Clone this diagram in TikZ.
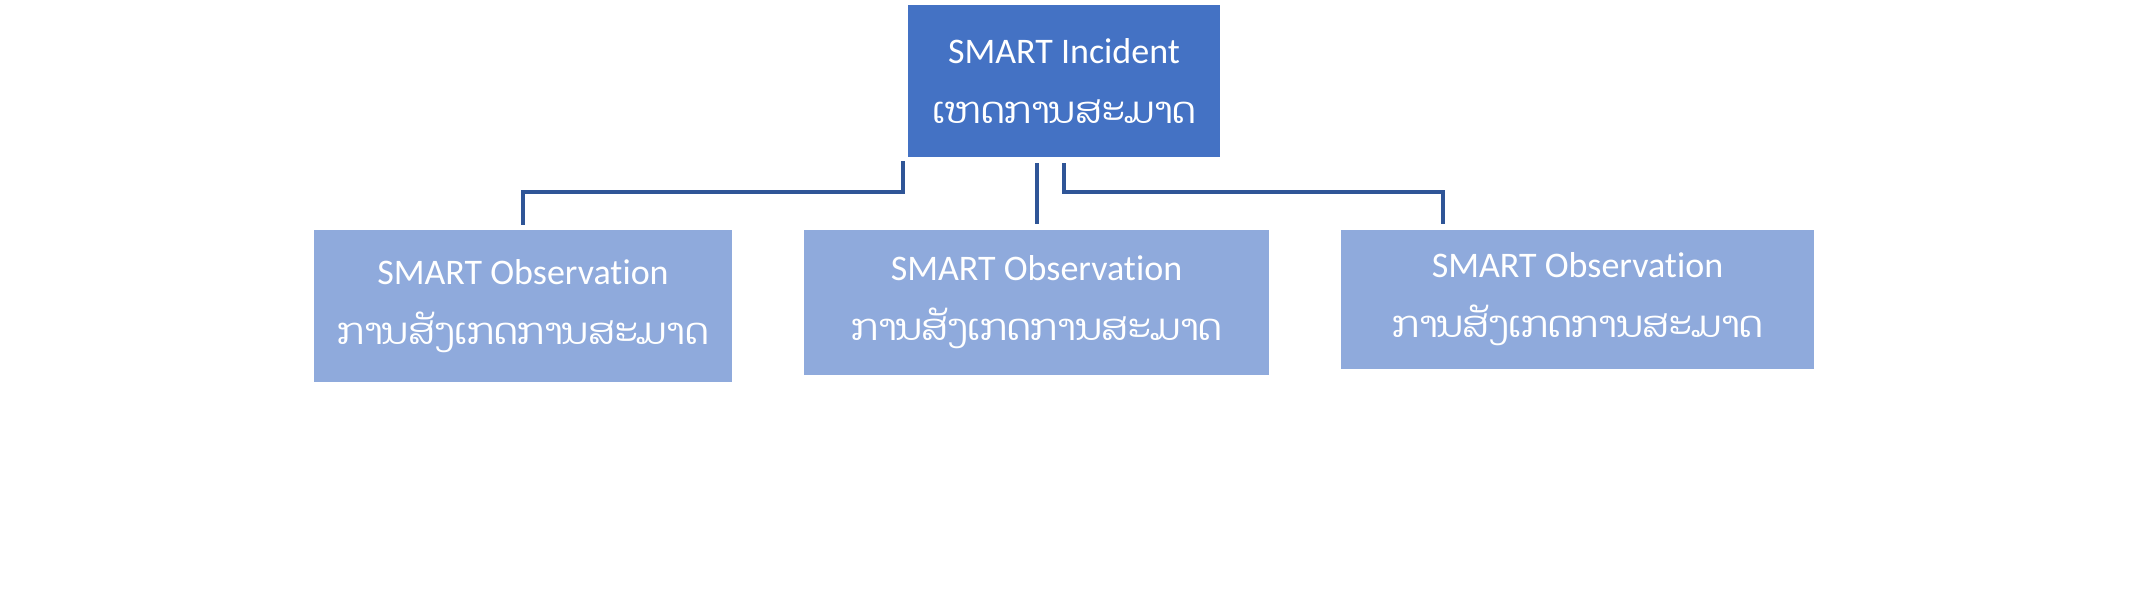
\documentclass[tikz,border=0pt]{standalone}
\usepackage{fontspec}
\setmainfont{Carlito}[Ligatures=NoCommon]
\newfontfamily\laofont[Script=Lao,Scale=1.02]{Dhyana}
\definecolor{incidentblue}{HTML}{4472C4}
\definecolor{obsblue}{HTML}{8FAADC}
\definecolor{linkblue}{HTML}{2F5597}
\tikzset{
  chartbox/.style={text=white,align=center,inner sep=0pt,font=\fontsize{18}{30}\selectfont},
  incidentbox/.style={chartbox,fill=incidentblue},
  obsbox/.style={chartbox,fill=obsblue},
  link/.style={draw=linkblue,line width=2pt}
}
\begin{document}
\begin{tikzpicture}[x=0.5pt,y=-0.5pt]
  \useasboundingbox (0,0) rectangle (2131,605);
  \node[incidentbox,minimum width=156pt,minimum height=76pt] (incident) at (1064,81)
    {SMART Incident\\\laofont ເຫດການສະມາດ};
  \foreach \n/\x/\y/\w/\h in {1/523/306/209/76,2/1036.5/302.5/232.5/72.5,3/1577.5/299.5/236.5/69.5}{
    \node[obsbox,minimum width=\w pt,minimum height=\h pt] (obs\n) at (\x,\y)
      {SMART Observation\\\laofont ການສັງເກດການສະມາດ};
  }
  \draw[link] ([xshift=-2.5pt,yshift=-2pt]incident.south west) -- ++(0,31) -| ([yshift=2.5pt]obs1.north);
  \draw[link] ([yshift=-3pt]obs2.north |- incident.south) -- ([yshift=3pt]obs2.north);
  \draw[link] ([yshift=-3pt]incident.south) -- ++(0,29) -| ([xshift=-67.25pt,yshift=3pt]obs3.north);
\end{tikzpicture}
\end{document}
